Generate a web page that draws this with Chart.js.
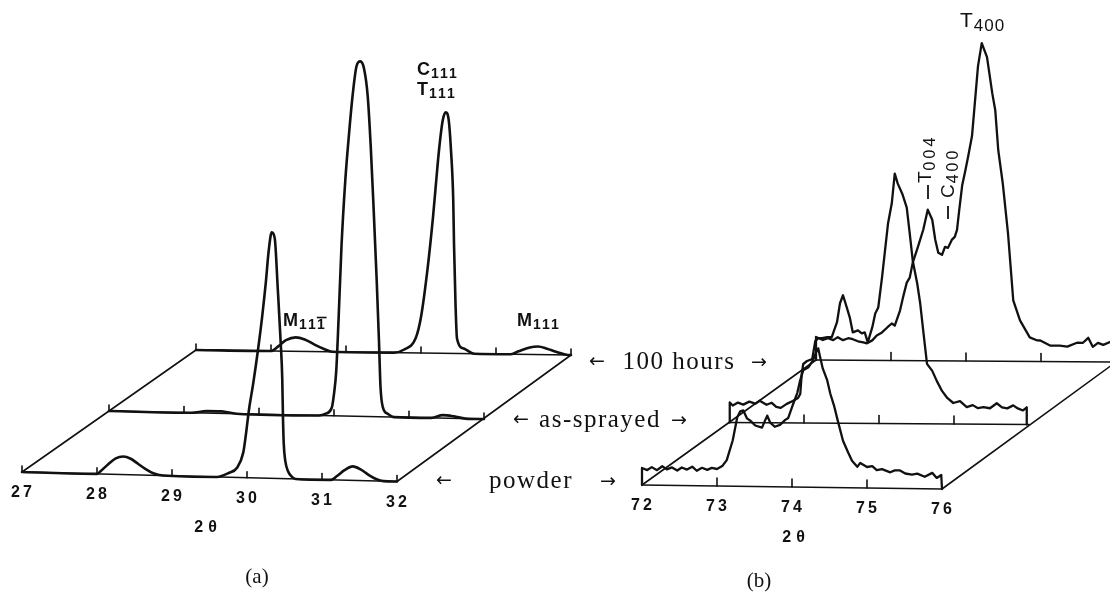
<!DOCTYPE html>
<html>
<head>
<meta charset="utf-8">
<script src="https://cdn.jsdelivr.net/npm/chart.js@4.4.1/dist/chart.umd.min.js"></script>
<style>
  html, body { margin: 0; padding: 0; background: #fff; overflow: hidden; }
  canvas { display: block; }
</style>
</head>
<body>
<canvas id="xrd" width="1110" height="598"></canvas>
<script>
// ---- data: [2θ (deg), relative intensity] ----
const TICKS_A = [27, 28, 29, 30, 31, 32];
const TICKS_B = [72, 73, 74, 75, 76];
const SAMPLES = ["powder", "as-sprayed", "100 hours"];

// (a) 27-32 deg
const A_POWDER = [[27.00,0],[28.00,0],[28.05,3],[28.15,10],[28.25,16],[28.35,18],[28.45,16],[28.55,11],
  [28.65,6],[28.75,2],[28.88,0],[29.60,0],[29.75,4],[29.87,10],[29.95,25],[29.98,40],[30.03,70],[30.08,93],
  [30.15,130],[30.20,160],[30.25,195],[30.29,228],[30.33,246],[30.37,240],[30.41,190],[30.45,135],[30.47,100],
  [30.48,60],[30.49,35],[30.51,18],[30.55,7],[30.60,2],[30.65,0],[31.12,0],[31.20,4],[31.30,10],[31.41,14],
  [31.52,11],[31.62,6],[31.72,2],[31.82,0],[32.00,0]];
const A_SPRAYED = [[27.00,0],[28.10,0],[28.30,2],[28.50,2],[28.70,0],[29.80,0],[29.89,2],[29.97,8],[30.00,22],
  [30.03,45],[30.06,95],[30.10,170],[30.15,235],[30.20,282],[30.25,322],[30.30,350],[30.35,355],[30.40,348],
  [30.45,320],[30.49,270],[30.53,205],[30.57,135],[30.60,75],[30.62,30],[30.65,10],[30.72,3],[30.80,0],
  [31.30,0],[31.45,3],[31.60,2],[31.75,0],[32.00,0]];
const A_100H = [[27.00,0],[28.00,0],[28.10,5],[28.20,11],[28.33,14],[28.45,12],[28.58,7],[28.70,3],[28.82,0],
  [29.64,0],[29.77,3],[29.93,15],[30.00,36],[30.09,86],[30.16,136],[30.20,170],[30.24,203],[30.29,233],
  [30.33,241],[30.37,233],[30.40,203],[30.43,153],[30.44,110],[30.46,50],[30.48,15],[30.57,5],[30.71,0],
  [31.20,0],[31.30,3],[31.45,7],[31.56,8],[31.68,6],[31.80,3],[31.96,0],[32.00,0]];

// (b) 72-76 deg
const B_POWDER = [[72.00,0],[72.00,17],[72.07,15],[72.13,18],[72.20,15],[72.27,19],[72.33,16],[72.40,18],
  [72.47,15],[72.53,18],[72.60,16],[72.67,19],[72.73,15],[72.80,18],[72.87,16],[72.93,18],[73.00,17],
  [73.07,20],[73.13,26],[73.21,46],[73.27,69],[73.31,75],[73.35,76],[73.40,68],[73.44,66],[73.51,61],
  [73.60,59],[73.64,66],[73.67,71],[73.71,64],[73.77,60],[73.84,62],[73.91,67],[73.95,69],[74.01,82],
  [74.07,94],[74.11,107],[74.15,117],[74.22,120],[74.28,127],[74.32,135],[74.35,139],[74.37,132],
  [74.41,119],[74.47,107],[74.51,94],[74.56,82],[74.61,67],[74.68,47],[74.75,35],[74.80,27],[74.87,21],
  [74.91,25],[75.00,21],[75.07,22],[75.13,18],[75.20,19],[75.31,16],[75.37,18],[75.44,18],[75.51,15],
  [75.60,14],[75.67,15],[75.77,12],[75.87,16],[75.93,11],[75.99,14],[76.00,0]];
const B_SPRAYED = [[72.01,0],[72.01,20],[72.05,17],[72.12,20],[72.19,18],[72.27,21],[72.35,19],[72.41,22],
  [72.50,18],[72.57,20],[72.63,16],[72.69,15],[72.77,19],[72.85,22],[72.92,25],[72.95,29],[72.97,49],
  [72.99,59],[73.04,62],[73.11,64],[73.15,82],[73.19,85],[73.24,85],[73.31,86],[73.37,86],[73.44,101],
  [73.48,120],[73.52,128],[73.57,116],[73.61,106],[73.65,91],[73.72,93],[73.77,90],[73.81,91],[73.85,81],
  [73.91,96],[73.95,110],[73.99,116],[74.04,146],[74.08,173],[74.12,200],[74.17,220],[74.21,250],
  [74.25,240],[74.31,230],[74.37,216],[74.41,190],[74.45,163],[74.51,140],[74.55,120],[74.59,93],
  [74.64,60],[74.71,53],[74.77,43],[74.84,33],[74.91,26],[74.99,21],[75.08,23],[75.17,17],[75.25,19],
  [75.32,16],[75.39,17],[75.48,16],[75.57,21],[75.64,17],[75.71,16],[75.79,19],[75.85,16],[75.92,14],
  [75.97,17],[75.97,0]];
const B_100H = [[72.00,0],[72.00,23],[72.09,20],[72.16,22],[72.23,20],[72.29,23],[72.36,20],[72.43,22],
  [72.49,21],[72.56,19],[72.63,18],[72.68,17],[72.75,20],[72.81,25],[72.88,28],[72.95,33],[73.01,37],
  [73.05,35],[73.12,50],[73.16,63],[73.21,78],[73.25,83],[73.29,98],[73.36,114],[73.43,131],[73.49,151],
  [73.55,141],[73.59,121],[73.63,108],[73.68,106],[73.72,114],[73.76,113],[73.81,121],[73.85,124],
  [73.88,131],[73.91,151],[73.95,176],[73.99,190],[74.03,205],[74.08,225],[74.12,260],[74.16,295],
  [74.21,318],[74.28,304],[74.35,268],[74.39,251],[74.43,211],[74.49,178],[74.56,128],[74.63,61],
  [74.72,41],[74.85,24],[74.95,21],[74.99,21],[75.12,16],[75.25,16],[75.35,15],[75.48,19],[75.56,19],
  [75.63,24],[75.69,15],[75.76,19],[75.83,17],[75.92,20],[76.00,18],[76.00,0]];

// ---- layout of the oblique "waterfall" view ----
const W = 1110, H = 598;
const PX_PER_DEG = 75;          // 1 deg of 2θ on screen
const DEPTH_DX = 87 / PX_PER_DEG; // shift of each plane to the right, in deg
const PANEL_A = { axis: "xa", start: 27, end: 32, base: 0,   dy: 61,   slope: [1.9, 1.6, 1.0], ticks: TICKS_A, tickLen: 6, endTicks: true };
const PANEL_B = { axis: "xb", start: 72, end: 76, base: -13, dy: 62.5, slope: [1.0, 0.5, 0.5], ticks: TICKS_B, tickLen: 8, endTicks: false };
const INK = "#111";

// 1. project a trace onto its plane (depth 0 = front)
function project(p, depth, pts) {
  return pts.map(([t, h]) => ({
    x: t + depth * DEPTH_DX,
    y: p.base + depth * p.dy - p.slope[depth] * (t - p.start) + h
  }));
}

function P(chart, p, t, d, h) {
  return {
    x: chart.scales[p.axis].getPixelForValue(t + d * DEPTH_DX),
    y: chart.scales.y.getPixelForValue(p.base + d * p.dy - p.slope[d] * (t - p.start) + (h || 0))
  };
}

function line(ctx, a, b) {
  ctx.beginPath(); ctx.moveTo(a.x, a.y); ctx.lineTo(b.x, b.y); ctx.stroke();
}

// 2. planes, diagonals and ticks
const framePlugin = {
  id: "frame",
  beforeDatasetsDraw(chart) {
    const ctx = chart.ctx;
    ctx.save();
    ctx.strokeStyle = INK;
    ctx.lineCap = "round";
    [PANEL_A, PANEL_B].forEach(p => {
      ctx.lineWidth = 1.6;
      for (let d = 0; d < 3; d++) {
        line(ctx, P(chart, p, p.start, d), P(chart, p, p.end, d));
        p.ticks.forEach(t => {
          if (!p.endTicks && (t === p.start || t === p.end)) return;
          const q = P(chart, p, t, d);
          line(ctx, q, { x: q.x, y: q.y - p.tickLen });
        });
      }
      line(ctx, P(chart, p, p.start, 0), P(chart, p, p.start, 2));
      line(ctx, P(chart, p, p.end, 0), P(chart, p, p.end, 2));
    });
    ctx.restore();
  }
};

// 3. text helpers
function subText(ctx, x, y, main, sub, o) {
  ctx.font = `${o.weight} ${o.size}px "Liberation Sans"`;
  ctx.letterSpacing = "0px";
  ctx.fillText(main, x, y);
  const w = ctx.measureText(main).width;
  ctx.font = `${o.weight} ${o.subSize}px "Liberation Sans"`;
  ctx.letterSpacing = (o.ls || 0) + "px";
  ctx.fillText(sub, x + w + 1, y + o.drop);
  if (o.bar) {
    const before = ctx.measureText(sub.slice(0, -1)).width;
    const last = ctx.measureText(sub.slice(-1)).width - (o.ls || 0);
    const bx = x + w + 1 + before;
    ctx.lineWidth = 1.6;
    ctx.beginPath();
    ctx.moveTo(bx - 1, y + o.drop - o.subSize * 0.82);
    ctx.lineTo(bx + last + 1, y + o.drop - o.subSize * 0.82);
    ctx.stroke();
  }
  ctx.letterSpacing = "0px";
}

function rotatedLabel(ctx, x, y, main, sub, dash) {
  ctx.save();
  ctx.translate(x, y);
  ctx.rotate(-Math.PI / 2);
  ctx.textAlign = "left";
  ctx.textBaseline = "alphabetic";
  subText(ctx, 0, 0, main, sub, { weight: "normal", size: 19, subSize: 16, drop: 4, ls: 3 });
  ctx.restore();
  ctx.lineWidth = 1.8;
  line(ctx, { x: dash[0], y: dash[1] }, { x: dash[0], y: dash[2] });
}

// 4. tick labels, axis titles and annotations
const labelPlugin = {
  id: "labels",
  afterDatasetsDraw(chart) {
    const ctx = chart.ctx;
    ctx.save();
    ctx.fillStyle = INK;
    ctx.strokeStyle = INK;

    // tick numbers under the front plane
    ctx.textAlign = "center";
    ctx.textBaseline = "middle";
    ctx.font = 'bold 16px "Liberation Sans"';
    ctx.letterSpacing = "3px";
    [PANEL_A, PANEL_B].forEach(p => {
      p.ticks.forEach(t => {
        const q = P(chart, p, t, 0);
        ctx.fillText(String(t), q.x + 1, q.y + 21);
      });
    });
    ctx.letterSpacing = "5px";
    ctx.fillText("2θ", 208, 528);
    ctx.fillText("2θ", 796, 538);
    ctx.letterSpacing = "0px";

    ctx.font = '21px "Liberation Serif"';
    ctx.fillText("(a)", 257, 577);
    ctx.fillText("(b)", 759, 581);

    // sample names between the panels
    const rows = [
      { name: SAMPLES[2], x: 679, y: 362, l: 597, r: 759 },
      { name: SAMPLES[1], x: 600, y: 420, l: 521, r: 679 },
      { name: SAMPLES[0], x: 531, y: 481, l: 444, r: 608 }
    ];
    rows.forEach(r => {
      ctx.font = '25px "Liberation Serif"';
      ctx.letterSpacing = "1.5px";
      ctx.fillText(r.name, r.x, r.y);
      ctx.letterSpacing = "0px";
      ctx.font = '19px "DejaVu Sans"';
      ctx.fillText("←", r.l, r.y);
      ctx.fillText("→", r.r, r.y + 1);
    });

    // peak labels, panel (a)
    ctx.textAlign = "left";
    ctx.textBaseline = "alphabetic";
    const bold = { weight: "bold", size: 18, subSize: 14, drop: 3, ls: 2 };
    subText(ctx, 283, 326, "M", "111", Object.assign({}, bold, { bar: true }));
    subText(ctx, 417, 75, "C", "111", bold);
    subText(ctx, 417, 95, "T", "111", bold);
    subText(ctx, 517, 326, "M", "111", bold);

    // peak labels, panel (b)
    subText(ctx, 960, 27, "T", "400", { weight: "normal", size: 21, subSize: 17, drop: 4, ls: 1 });
    rotatedLabel(ctx, 931, 183, "T", "004", [928, 185, 199]);
    rotatedLabel(ctx, 954, 198, "C", "400", [948, 206, 219]);

    ctx.restore();
  }
};

// 5. datasets
function trace(p, depth, pts, label, smooth) {
  return {
    label: label,
    data: project(p, depth, pts),
    xAxisID: p.axis,
    yAxisID: "y",
    borderColor: INK,
    borderWidth: smooth ? 2.6 : 2.3,
    borderJoinStyle: "round",
    borderCapStyle: "round",
    pointRadius: 0,
    fill: false,
    tension: 0,
    cubicInterpolationMode: smooth ? "monotone" : "default"
  };
}

const datasets = [
  trace(PANEL_A, 2, A_100H, SAMPLES[2] + " (a)", true),
  trace(PANEL_A, 1, A_SPRAYED, SAMPLES[1] + " (a)", true),
  trace(PANEL_A, 0, A_POWDER, SAMPLES[0] + " (a)", true),
  trace(PANEL_B, 2, B_100H, SAMPLES[2] + " (b)", false),
  trace(PANEL_B, 1, B_SPRAYED, SAMPLES[1] + " (b)", false),
  trace(PANEL_B, 0, B_POWDER, SAMPLES[0] + " (b)", false)
];

const aMin = 27 - 22 / PX_PER_DEG;
const bMin = 72 - 642 / PX_PER_DEG;

new Chart(document.getElementById("xrd"), {
  type: "line",
  data: { datasets: datasets },
  options: {
    responsive: false,
    maintainAspectRatio: false,
    animation: false,
    layout: { padding: 0 },
    plugins: { legend: { display: false }, tooltip: { enabled: false } },
    scales: {
      xa: { type: "linear", display: false, min: aMin, max: aMin + W / PX_PER_DEG },
      xb: { type: "linear", display: false, min: bMin, max: bMin + W / PX_PER_DEG },
      y: { type: "linear", display: false, min: -126, max: H - 126 }
    }
  },
  plugins: [framePlugin, labelPlugin]
});
</script>
</body>
</html>
